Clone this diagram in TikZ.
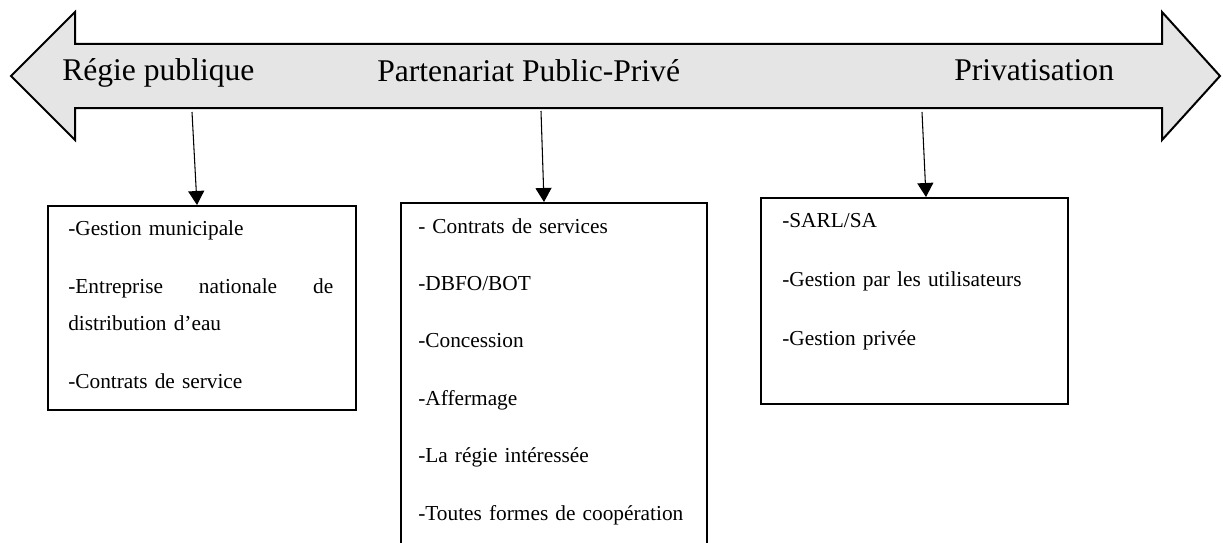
\documentclass[tikz,border=0pt]{standalone}
\usepackage{fontspec}
\setmainfont{Liberation Serif}
\usetikzlibrary{arrows.meta,positioning}
\tikzset{
  axe/.style={fill=gray!20,draw=black,line width=1.5pt,line join=miter},
  titre/.style={anchor=base west,inner sep=0pt,font=\fontsize{23.7}{28}\selectfont},
  cadre/.style={draw=black,line width=1.6pt,anchor=north west,inner sep=0pt},
  liste/.style={anchor=north west,inner sep=0pt,align=left,text width=210pt,
    font=\fontsize{16}{27.75}\selectfont},
  fleche/.style={-{Triangle[length=10.5pt,width=12pt]},line width=0.8pt}
}
\begin{document}
\begin{tikzpicture}[x=0.75pt,y=-0.75pt]
  \useasboundingbox (0,0) rectangle (1223,542);
  \clip (0,0) rectangle (1223,542);

  % Flèche double : du public au privé
  \draw[axe] (11,76) -- (75,12) -- (75,44) -- (1162,44) -- (1162,12) -- (1220,76)
    -- (1162,140) -- (1162,108) -- (75,108) -- (75,140) -- cycle;
  \node[titre] (regie) at (62,80) {Régie publique};
  \node[titre] (ppp) at (377,81) {Partenariat Public-Privé};
  \node[titre] (priv) at (954,80) {Privatisation};

  % Départs des flèches sous la bande
  \coordinate (d1) at (192,112);
  \coordinate (d2) at (541,111);
  \coordinate (d3) at (922,112);

  % Cadres
  \node[cadre,minimum width=231pt,minimum height=153pt] (b1) at (47,205) {};
  \node[cadre,minimum width=229.5pt,minimum height=280pt] (b2) at (400,202) {};
  \node[cadre,minimum width=230.25pt,minimum height=154.5pt] (b3) at (760,197) {};

  % Contenu des cadres
  \node[liste] (t1) at ([shift={(21,15)}]b1.north west)
    {-Gestion municipale\\[15.75pt]
     \makebox[198.75pt][s]{-Entreprise\hfill nationale\hfill de}\\
     distribution d’eau\\[15.75pt]
     -Contrats de service};
  \node[liste] (t2) at ([shift={(18,16)}]b2.north west)
    {- Contrats de services\\[15.3pt]
     -DBFO/BOT\\[15.3pt]
     -Concession\\[15.3pt]
     -Affermage\\[15.3pt]
     -La régie intéressée\\[15.3pt]
     -Toutes formes de coopération};
  \node[liste] (t3) at ([shift={(22,16)}]b3.north west)
    {-SARL/SA\\[16.5pt]
     -Gestion par les utilisateurs\\[16.5pt]
     -Gestion privée};

  % Flèches vers les cadres
  \draw[fleche] (d1) -- ([shift={(150,0)}]b1.north west);
  \draw[fleche] (d2) -- ([shift={(144,0)}]b2.north west);
  \draw[fleche] (d3) -- ([shift={(166,0)}]b3.north west);
\end{tikzpicture}
\end{document}
